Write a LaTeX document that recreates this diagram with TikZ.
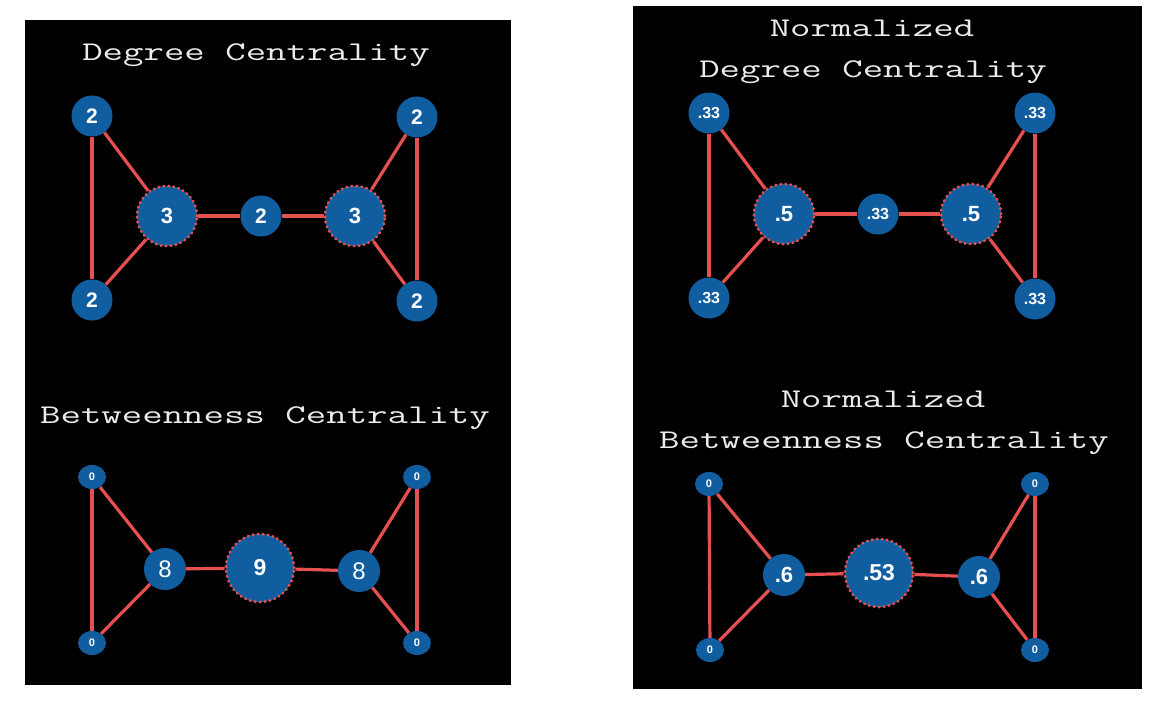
\documentclass[tikz,border=0pt]{standalone}
\usepackage{fontspec}
\usetikzlibrary{shapes.geometric}
\newfontfamily\numfont{Liberation Sans}
\definecolor{nblue}{RGB}{16,94,160}
\definecolor{ered}{RGB}{230,80,80}
\definecolor{tgray}{RGB}{235,235,235}
\newcommand{\ttl}[1]{\scalebox{1.47}[1]{#1}}
\tikzset{
  nd/.style={circle, fill=nblue, text=white, inner sep=0pt, minimum size=41pt,
    font=\numfont\bfseries\fontsize{21}{21}\selectfont},
  sm/.style={nd, font=\numfont\bfseries\fontsize{16}{16}\selectfont},
  mid/.style={nd, minimum size=42pt, font=\numfont\fontsize{24}{24}\selectfont},
  midb/.style={nd, minimum size=42pt, font=\numfont\bfseries\fontsize{22}{22}\selectfont},
  big/.style={nd, minimum size=60pt, draw=ered, line width=2.8pt,
    dash pattern=on 0.6pt off 4.4pt, line cap=round,
    font=\numfont\bfseries\fontsize{22}{22}\selectfont},
  huge/.style={big, minimum size=68pt, font=\numfont\bfseries\fontsize{23}{23}\selectfont},
  zero/.style={ellipse, fill=nblue, text=white, inner sep=0pt,
    minimum width=28pt, minimum height=24pt,
    font=\numfont\bfseries\fontsize{11}{11}\selectfont},
  ed/.style={draw=ered, line width=3.2pt},
  ttlnode/.style={text=tgray, inner sep=0pt, anchor=base, font=\ttfamily\fontsize{27}{29}\selectfont},
  panel/.style={fill=black, draw=none}
}
\begin{document}
\begin{tikzpicture}[x=1pt,y=-1pt]
\useasboundingbox (0,0) rectangle (1156,706);
\fill[white] (0,0) rectangle (1156,706);
\path[panel] (25,20) rectangle (511,685);
\path[panel] (633,6) rectangle (1142,689);

% ---------- Degree Centrality ----------
\node[ttlnode] (t1) at (256,61) {\ttl{Degree Centrality}};
\node[nd] (a1) at (92,116) {2};
\node[nd] (a2) at (92,300) {2};
\node[big] (a3) at (167,216) {3};
\node[nd] (a4) at (261,216) {2};
\node[big] (a5) at (355,216) {3};
\node[nd] (a6) at (417,117) {2};
\node[nd] (a7) at (417,301) {2};
\draw[ed] (a1) -- (a2);
\draw[ed] (a1) -- (a3);
\draw[ed] (a2) -- (a3);
\draw[ed] (a3) -- (a4);
\draw[ed] (a4) -- (a5);
\draw[ed] (a5) -- (a6);
\draw[ed] (a5) -- (a7);
\draw[ed] (a6) -- (a7);

% ---------- Betweenness Centrality ----------
\node[ttlnode] (t2) at (265,423) {\ttl{Betweenness Centrality}};
\node[zero] (b1) at (92,477) {0};
\node[zero] (b2) at (92,643) {0};
\node[mid] (b3) at (165,569) {8};
\node[huge] (b4) at (260,568) {9};
\node[mid] (b5) at (359,571) {8};
\node[zero] (b6) at (417,477) {0};
\node[zero] (b7) at (417,643) {0};
\draw[ed] (b1) -- (b2);
\draw[ed] (b1) -- (b3);
\draw[ed] (b2) -- (b3);
\draw[ed] (b3) -- (b4);
\draw[ed] (b4) -- (b5);
\draw[ed] (b5) -- (b6);
\draw[ed] (b5) -- (b7);
\draw[ed] (b6) -- (b7);

% ---------- Normalized Degree Centrality ----------
\node[ttlnode] (t3) at (872,37) {\ttl{Normalized}};
\node[ttlnode] (t4) at (873,78) {\ttl{Degree Centrality}};
\node[sm] (c1) at (709,113) {.33};
\node[sm] (c2) at (709,298) {.33};
\node[big] (c3) at (784,214) {.5};
\node[sm] (c4) at (878,214) {.33};
\node[big] (c5) at (971,214) {.5};
\node[sm] (c6) at (1035,113) {.33};
\node[sm] (c7) at (1035,299) {.33};
\draw[ed] (c1) -- (c2);
\draw[ed] (c1) -- (c3);
\draw[ed] (c2) -- (c3);
\draw[ed] (c3) -- (c4);
\draw[ed] (c4) -- (c5);
\draw[ed] (c5) -- (c6);
\draw[ed] (c5) -- (c7);
\draw[ed] (c6) -- (c7);

% ---------- Normalized Betweenness Centrality ----------
\node[ttlnode] (t5) at (883,407) {\ttl{Normalized}};
\node[ttlnode] (t6) at (884,448) {\ttl{Betweenness Centrality}};
\node[zero] (d1) at (709,484) {0};
\node[zero] (d2) at (710,650) {0};
\node[midb] (d3) at (784,575) {.6};
\node[huge] (d4) at (879,573) {.53};
\node[midb] (d5) at (979,577) {.6};
\node[zero] (d6) at (1035,484) {0};
\node[zero] (d7) at (1035,650) {0};
\draw[ed] (d1) -- (d2);
\draw[ed] (d1) -- (d3);
\draw[ed] (d2) -- (d3);
\draw[ed] (d3) -- (d4);
\draw[ed] (d4) -- (d5);
\draw[ed] (d5) -- (d6);
\draw[ed] (d5) -- (d7);
\draw[ed] (d6) -- (d7);
\end{tikzpicture}
\end{document}
